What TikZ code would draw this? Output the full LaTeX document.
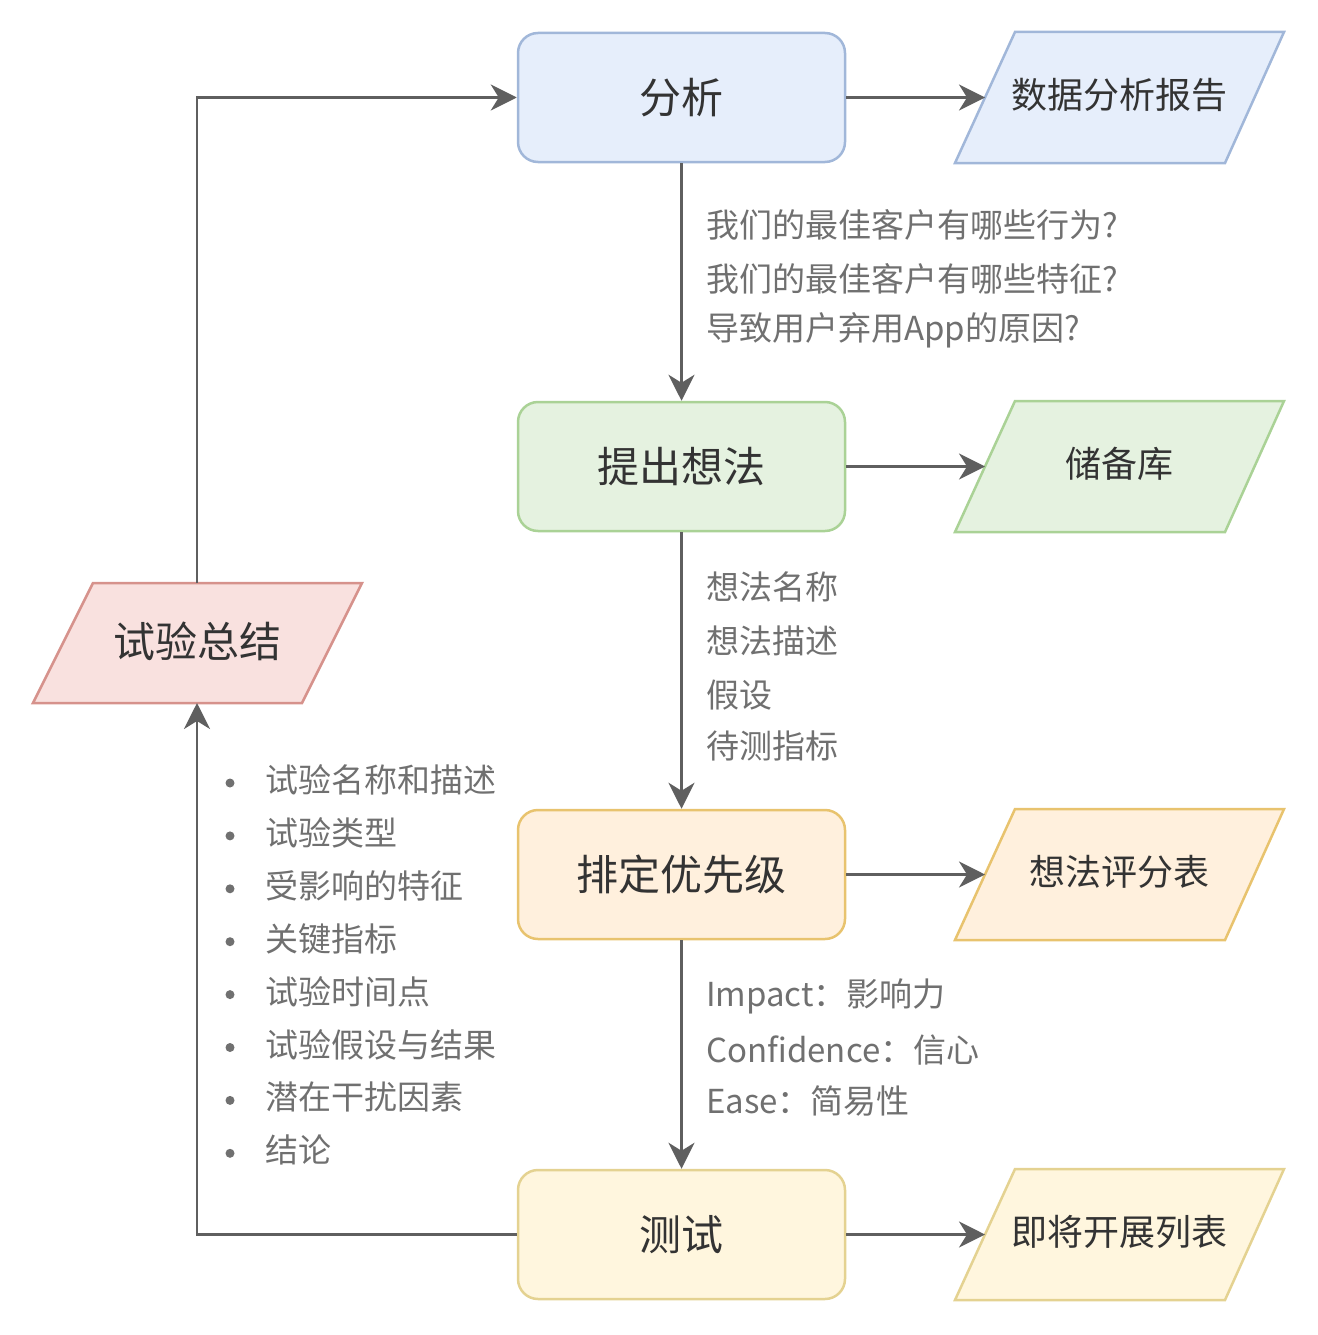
\documentclass[tikz,border=0pt]{standalone}
\usepackage{fontspec}
\setmainfont{Noto Sans CJK SC}
\usetikzlibrary{arrows.meta}
\definecolor{arrowgray}{RGB}{95,95,95}
\definecolor{boxtxt}{RGB}{51,51,51}
\definecolor{labtxt}{RGB}{112,112,112}
\definecolor{bfill}{RGB}{230,238,251}\definecolor{bdraw}{RGB}{161,183,217}
\definecolor{gfill}{RGB}{229,242,224}\definecolor{gdraw}{RGB}{170,210,150}
\definecolor{ofill}{RGB}{255,240,221}\definecolor{odraw}{RGB}{232,195,110}
\definecolor{yfill}{RGB}{255,246,222}\definecolor{ydraw}{RGB}{228,210,145}
\definecolor{rfill}{RGB}{249,225,223}\definecolor{rdraw}{RGB}{214,146,140}
\begin{document}
\begin{tikzpicture}[x=1pt,y=-1pt,
  proc/.style={draw, line width=2.5pt, rounded corners=20pt, minimum width=327pt, minimum height=129pt, inner sep=0pt, text=boxtxt, font=\fontsize{42}{50}\selectfont},
  para/.style={line width=2.5pt, line join=miter},
  plabel/.style={text=boxtxt, inner sep=0pt, font=\fontsize{36}{44}\selectfont},
  lab/.style={text=labtxt, inner sep=0pt, anchor=west, font=\fontsize{33}{40}\selectfont},
  conn/.style={draw=arrowgray, line width=2.5pt, -{Stealth[length=26pt,width=26pt,inset=8pt]}}
]
\useasboundingbox (0,0) rectangle (1317,1335);

% main process boxes
\node[proc, fill=bfill, draw=bdraw] (fx) at (681.5,97.5) {分析};
\node[proc, fill=gfill, draw=gdraw] (tc) at (681.5,466.5) {提出想法};
\node[proc, fill=ofill, draw=odraw] (pd) at (681.5,874.5) {排定优先级};
\node[proc, fill=yfill, draw=ydraw] (cs) at (681.5,1234.5) {测试};

% right parallelograms
\filldraw[para, fill=bfill, draw=bdraw] (955,163) -- (1015,32) -- (1284,32) -- (1225,163) -- cycle;
\filldraw[para, fill=gfill, draw=gdraw] (955,532) -- (1015,401) -- (1284,401) -- (1225,532) -- cycle;
\filldraw[para, fill=ofill, draw=odraw] (955,940) -- (1015,809) -- (1284,809) -- (1225,940) -- cycle;
\filldraw[para, fill=yfill, draw=ydraw] (955,1300) -- (1015,1169) -- (1284,1169) -- (1225,1300) -- cycle;
\node[plabel] (r1) at (1119,95) {数据分析报告};
\node[plabel] (r2) at (1119,464) {储备库};
\node[plabel] (r3) at (1119,872) {想法评分表};
\node[plabel] (r4) at (1119,1232) {即将开展列表};
\coordinate (r1w) at (985,97.5);
\coordinate (r2w) at (985,466.5);
\coordinate (r3w) at (985,874.5);
\coordinate (r4w) at (985,1234.5);

% left parallelogram
\filldraw[para, fill=rfill, draw=rdraw] (33,703) -- (93,583) -- (362,583) -- (302,703) -- cycle;
\node[plabel, font=\fontsize{42}{50}\selectfont] (zj) at (197,641) {试验总结};
\coordinate (zjt) at (197,583);
\coordinate (zjb) at (197,703);

% connectors
\draw[conn] (fx.east) -- (r1w);
\draw[conn] (tc.east) -- (r2w);
\draw[conn] (pd.east) -- (r3w);
\draw[conn] (cs.east) -- (r4w);
\draw[conn] (fx.south) -- (tc.north);
\draw[conn] (tc.south) -- (pd.north);
\draw[conn] (pd.south) -- (cs.north);
\draw[conn] (cs.west) -| (zjb);
\draw[conn] (zjt) |- (fx.west);

% labels
\node[lab] (q1) at (706,225) {我们的最佳客户有哪些行为?};
\node[lab] (q2) at (706,279) {我们的最佳客户有哪些特征?};
\node[lab] (q3) at (706,330) {导致用户弃用App的原因?};
\node[lab] (i1) at (706,587) {想法名称};
\node[lab] (i2) at (706,641) {想法描述};
\node[lab] (i3) at (706,695) {假设};
\node[lab] (i4) at (706,746) {待测指标};
\node[lab] (p1) at (706,996) {Impact：影响力};
\node[lab] (p2) at (706,1050) {Confidence：信心};
\node[lab] (p3) at (706,1101) {Ease：简易性};

\foreach \t [count=\i] in {试验名称和描述,试验类型,受影响的特征,关键指标,试验时间点,试验假设与结果,潜在干扰因素,结论}{
  \pgfmathsetmacro{\yy}{780+52.9*(\i-1)}
  \fill[labtxt] (230,\yy+3) circle (4.5pt);
  \node[lab] (b\i) at (265,\yy) {\t};
}
\end{tikzpicture}
\end{document}
